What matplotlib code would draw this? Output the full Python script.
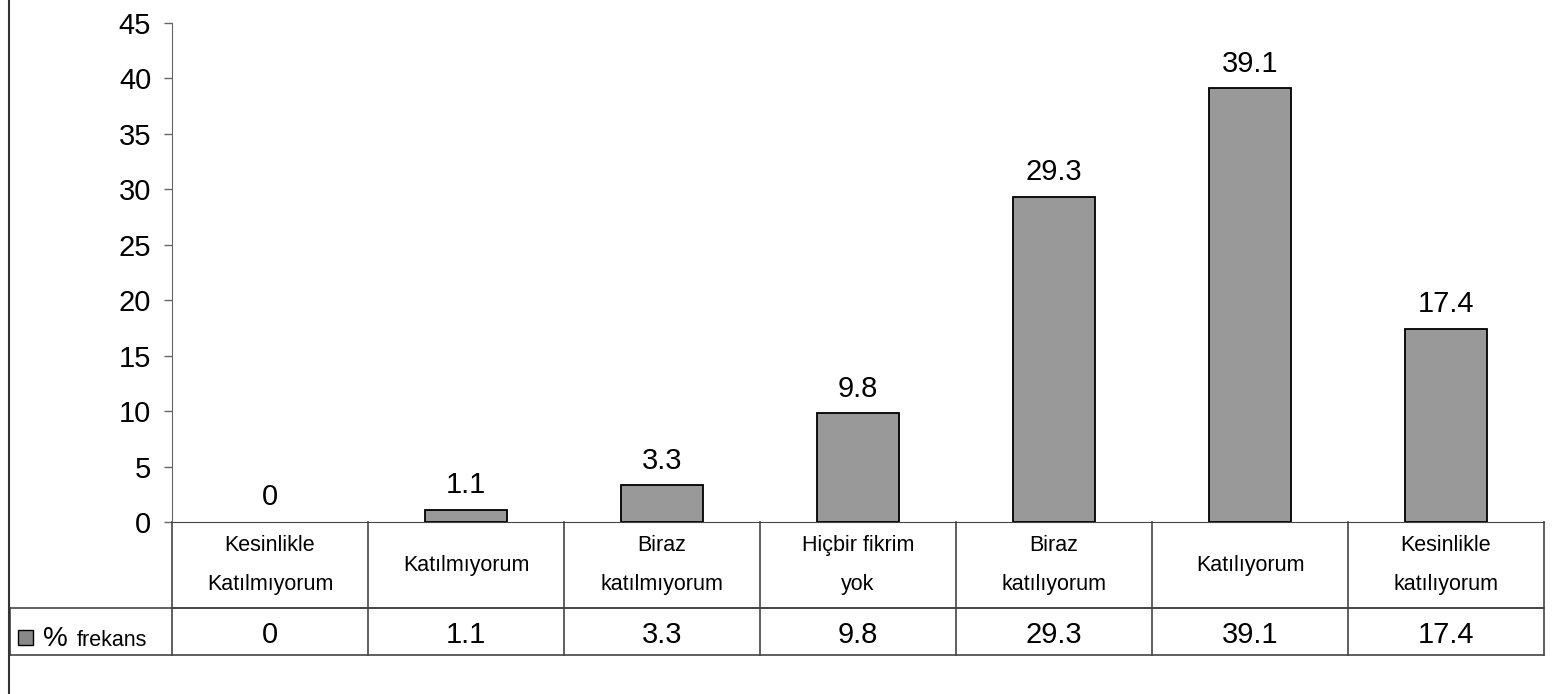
import matplotlib.pyplot as plt
from matplotlib.lines import Line2D
from matplotlib.patches import Rectangle
from matplotlib.transforms import blended_transform_factory

plt.rcParams['font.family'] = ['Liberation Sans', 'DejaVu Sans']

categories = ["Kesinlikle\nKatılmıyorum", "Katılmıyorum", "Biraz\nkatılmıyorum",
              "Hiçbir fikrim\nyok", "Biraz\nkatılıyorum", "Katılıyorum",
              "Kesinlikle\nkatılıyorum"]
values = [0, 1.1, 3.3, 9.8, 29.3, 39.1, 17.4]
value_labels = ["0", "1.1", "3.3", "9.8", "29.3", "39.1", "17.4"]
series_name = "frekans"
yticks = [0, 5, 10, 15, 20, 25, 30, 35, 40, 45]

W, H = 1562, 694
fig = plt.figure(figsize=(W / 100, H / 100), dpi=100)
fig.patch.set_facecolor("white")

# plot area in pixels: x 172..1544, y 23..522 (from top)
ax = fig.add_axes([172 / W, (H - 522) / H, 1372 / W, 499 / H])
n = len(values)
x = list(range(n))
edge_w = [1.3 if v > 0 else 0 for v in values]
ax.bar(x, values, width=0.42, color="#999999", edgecolor="black", linewidth=edge_w, zorder=3)
ax.set_xlim(-0.5, n - 0.5)
ax.set_ylim(0, 45)
ax.set_yticks(yticks)
ax.set_yticklabels([str(t) for t in yticks], fontsize=21)
ax.tick_params(axis="y", direction="out", length=6, width=1, color="#666666", pad=9)
ax.set_xticks([])
for s in ["top", "right"]:
    ax.spines[s].set_visible(False)
ax.spines["left"].set_color("#666666")
ax.spines["bottom"].set_color("#444444")

# value labels above bars
for xi, v, lab in zip(x, values, value_labels):
    ax.annotate(lab, (xi, v), xytext=(0, 12), textcoords="offset points",
                ha="center", va="baseline", fontsize=21)

# data table below the axes
tr = blended_transform_factory(ax.transData, ax.transAxes)
px = 1 / 499
row1 = -86 * px
row2 = -133 * px
left_cell = -0.5 - 162 / 196
line_kw = dict(color="#444444", linewidth=1.2, transform=tr, clip_on=False)

ax.add_line(Line2D([-0.5, n - 0.5], [row1, row1], **line_kw))
ax.add_line(Line2D([left_cell, n - 0.5], [row1, row1], **line_kw))
ax.add_line(Line2D([left_cell, n - 0.5], [row2, row2], **line_kw))
ax.add_line(Line2D([left_cell, left_cell], [row1, row2], **line_kw))
for b in range(n + 1):
    ax.add_line(Line2D([b - 0.5, b - 0.5], [0, row2], **line_kw))

for xi, cat, lab in zip(x, categories, value_labels):
    ax.text(xi, -43 * px, cat, transform=tr, ha="center", va="center",
            fontsize=15.5, linespacing=2.15, clip_on=False)
    ax.text(xi, row1 - 35 * px, lab, transform=tr, ha="center", va="baseline",
            fontsize=21, clip_on=False)

# legend key in the row header
fig.patches.append(Rectangle((18 / W, (H - 645) / H), 15 / W, 15 / H,
                             facecolor="#888888", edgecolor="black", linewidth=1,
                             transform=fig.transFigure))
fig.text(43 / W, (H - 646) / H, "%", fontsize=20, va="baseline")
fig.text(77 / W, (H - 646) / H, series_name, fontsize=15.5, va="baseline")

# chart area border (left edge)
fig.add_artist(Line2D([8.5 / W, 8.5 / W], [0, 1], color="#333333", linewidth=1.5,
                      transform=fig.transFigure))

fig.savefig("out.png", dpi=100)
